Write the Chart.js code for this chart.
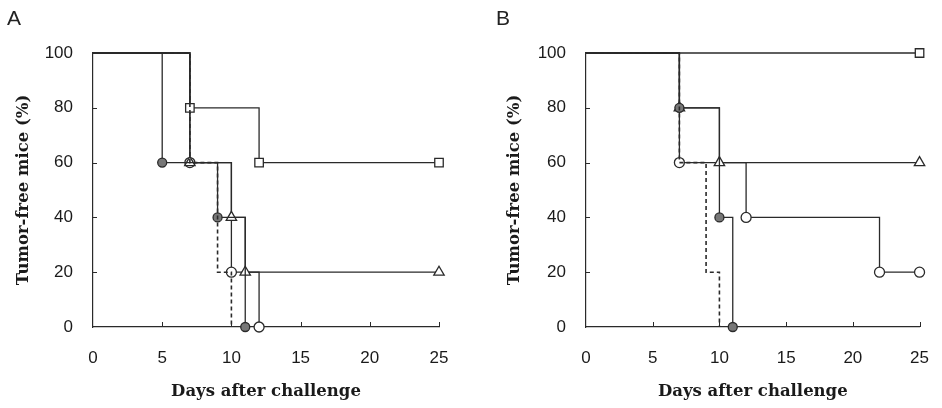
<!DOCTYPE html>
<html>
<head>
<meta charset="utf-8">
<script src="https://cdn.jsdelivr.net/npm/chart.js@4"></script>
<style>
  body { margin: 0; background: #fff; }
  #wrap { position: relative; width: 942px; height: 408px; }
  .panel { position: absolute; top: 0; width: 471px; height: 408px; }
  .tag { position: absolute; top: 6px; font: 21px "Liberation Sans", Arial, sans-serif; color: #222; }
</style>
</head>
<body>
<div id="wrap">
  <div class="panel" style="left:0"><canvas id="chartA"></canvas></div>
  <div class="panel" style="left:471px"><canvas id="chartB"></canvas></div>
  <div class="tag" style="left:7px">A</div>
  <div class="tag" style="left:496px">B</div>
</div>
<script>
// panel A
var daysA_dash = [0, 7, 9, 10];
var survA_dash = [100, 60, 20, 0];
var daysA_fill = [0, 5, 9, 11];
var survA_fill = [100, 60, 40, 0];
var daysA_sq = [0, 7, 12, 25];
var survA_sq = [100, 80, 60, 60];
var daysA_tri = [0, 7, 10, 11, 25];
var survA_tri = [100, 60, 40, 20, 20];
var daysA_circ = [0, 7, 10, 12];
var survA_circ = [100, 60, 20, 0];

// panel B
var daysB_dash = [0, 7, 9, 10];
var survB_dash = [100, 60, 20, 0];
var daysB_fill = [0, 7, 10, 11];
var survB_fill = [100, 80, 40, 0];
var daysB_sq = [0, 25];
var survB_sq = [100, 100];
var daysB_tri = [0, 7, 10, 25];
var survB_tri = [100, 80, 60, 60];
var daysB_circ = [0, 7, 12, 22, 25];
var survB_circ = [100, 60, 40, 20, 20];

var xTicks = [0, 5, 10, 15, 20, 25];
var yTicks = [0, 20, 40, 60, 80, 100];

var ink = '#2a2a2a';

function pts(xs, ys) {
    var out = [];
    for (var i in xs) {
        out.push({x: xs[i], y: ys[i]});
    }
    return out;
}

function series(xs, ys, shape, fill, size, dashed) {
    var radius = [];
    for (var i in xs) {
        radius.push(i == 0 || !shape ? 0 : size);
    }
    return {
        data: pts(xs, ys),
        stepped: true,
        borderColor: ink,
        borderWidth: dashed ? 1.6 : 1.3,
        borderDash: dashed ? [4, 3] : [],
        pointStyle: shape || 'circle',
        pointRadius: radius,
        pointHoverRadius: radius,
        pointBackgroundColor: fill,
        pointBorderColor: ink,
        pointBorderWidth: 1.3,
        fill: false,
        clip: false
    };
}

// small ticks pointing into the plot
var innerTicks = {
    id: 'innerTicks',
    afterDraw: function (chart) {
        var c = chart.ctx, x = chart.scales.x, y = chart.scales.y;
        c.save();
        c.strokeStyle = ink;
        c.lineWidth = 1;
        c.beginPath();
        xTicks.forEach(function (v) {
            if (v == 0) return;
            var px = Math.round(x.getPixelForValue(v)) + 0.5;
            c.moveTo(px, y.bottom);
            c.lineTo(px, y.bottom - 5);
        });
        yTicks.forEach(function (v) {
            if (v == 0) return;
            var py = Math.round(y.getPixelForValue(v)) + 0.5;
            c.moveTo(x.left, py);
            c.lineTo(x.left + 4, py);
        });
        c.stroke();
        c.restore();
    }
};

function makeChart(id, sets, padLeft, padRight, yWidth) {
    return new Chart(document.getElementById(id), {
        type: 'line',
        data: {datasets: sets},
        plugins: [innerTicks],
        options: {
            responsive: false,
            animation: false,
            events: [],
            layout: {padding: {left: padLeft, right: padRight, top: 53, bottom: 0}},
            plugins: {legend: {display: false}, tooltip: {enabled: false}},
            scales: {
                x: {
                    type: 'linear', min: 0, max: 25,
                    afterBuildTicks: function (s) { s.ticks = xTicks.map(function (v) { return {value: v}; }); },
                    afterFit: function (s) { s.height = 81; },
                    grid: {display: false},
                    border: {display: true, color: ink, width: 1.2},
                    ticks: {padding: 13, color: '#1a1a1a', font: {family: 'Liberation Sans', size: 17}},
                    title: {
                        display: true, text: 'Days after challenge', color: '#1a1a1a',
                        padding: {top: 0, bottom: 6},
                        font: {family: 'DejaVu Serif', size: 16.5, weight: 'bold'}
                    }
                },
                y: {
                    min: 0, max: 100,
                    afterBuildTicks: function (s) { s.ticks = yTicks.map(function (v) { return {value: v}; }); },
                    afterFit: function (s) { s.width = yWidth; },
                    grid: {display: false},
                    border: {display: true, color: ink, width: 1.2},
                    ticks: {padding: 12, color: '#1a1a1a', font: {family: 'Liberation Sans', size: 17}},
                    title: {
                        display: true, text: 'Tumor-free mice (%)', color: '#1a1a1a',
                        padding: {top: 14, bottom: 0},
                        font: {family: 'DejaVu Serif', size: 16.5, weight: 'bold'}
                    }
                }
            }
        }
    });
}

document.getElementById('chartA').width = 471;
document.getElementById('chartA').height = 408;
document.getElementById('chartB').width = 471;
document.getElementById('chartB').height = 408;

makeChart('chartA', [
    series(daysA_dash, survA_dash, null, '#fff', 0, true),
    series(daysA_fill, survA_fill, 'circle', '#777', 4.5, false),
    series(daysA_sq, survA_sq, 'rect', '#fff', 6, false),
    series(daysA_tri, survA_tri, 'triangle', '#fff', 6, false),
    series(daysA_circ, survA_circ, 'circle', '#fff', 5, false)
], 0, 32, 93);

makeChart('chartB', [
    series(daysB_dash, survB_dash, null, '#fff', 0, true),
    series(daysB_fill, survB_fill, 'circle', '#777', 4.5, false),
    series(daysB_sq, survB_sq, 'rect', '#fff', 6, false),
    series(daysB_tri, survB_tri, 'triangle', '#fff', 6, false),
    series(daysB_circ, survB_circ, 'circle', '#fff', 5, false)
], 20, 11, 95);
</script>
</body>
</html>
